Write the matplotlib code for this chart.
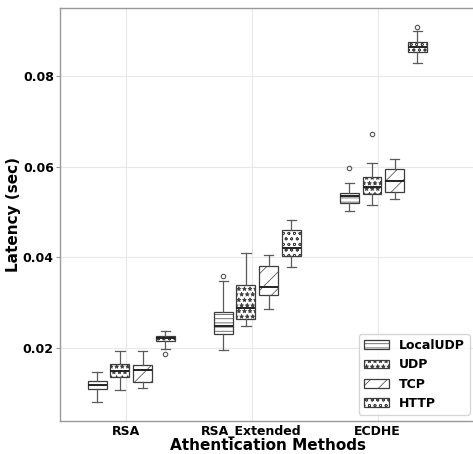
import matplotlib
matplotlib.use("Agg")
import matplotlib.pyplot as plt
from matplotlib.patches import Patch

# values: [whisker low, q1, median, q3, whisker high]
methods = ["RSA", "RSA_Extended", "ECDHE"]
protocols = ["LocalUDP", "UDP", "TCP", "HTTP"]

local_udp = [[0.0080, 0.0109, 0.0118, 0.0128, 0.0148],
             [0.0195, 0.0232, 0.0249, 0.0280, 0.0348],
             [0.0502, 0.0519, 0.0535, 0.0543, 0.0563]]
udp = [[0.0107, 0.0137, 0.0149, 0.0165, 0.0193],
       [0.0248, 0.0265, 0.0288, 0.0338, 0.0409],
       [0.0516, 0.0539, 0.0556, 0.0577, 0.0607]]
tcp = [[0.0112, 0.0124, 0.0151, 0.0163, 0.0193],
       [0.0287, 0.0316, 0.0334, 0.0380, 0.0406],
       [0.0528, 0.0545, 0.0568, 0.0594, 0.0618]]
http = [[0.0198, 0.0215, 0.0221, 0.0226, 0.0237],
        [0.0379, 0.0403, 0.0420, 0.0460, 0.0482],
        [0.0828, 0.0852, 0.0864, 0.0875, 0.0899]]

local_udp_fliers = [[], [0.0358], [0.0596]]
udp_fliers = [[], [], [0.0671]]
tcp_fliers = [[], [], []]
http_fliers = [[0.0186], [], [0.0909]]

series = [local_udp, udp, tcp, http]
fliers = [local_udp_fliers, udp_fliers, tcp_fliers, http_fliers]
hatches = ["----", "***", "//", "ooo"]

plt.rcParams["font.family"] = "DejaVu Sans"
plt.rcParams["font.weight"] = "bold"
plt.rcParams["hatch.linewidth"] = 0.5

fig = plt.figure(figsize=(4.73, 4.54), dpi=100)
ax = fig.add_axes([60 / 473, 33 / 454, 416 / 473, 413 / 454])

edge = "#3c3c3c"
step = 0.18
for j, (proto, data, fl, h) in enumerate(zip(protocols, series, fliers, hatches)):
    stats = []
    for i in range(len(methods)):
        lo, q1, med, q3, hi = data[i]
        stats.append(dict(whislo=lo, q1=q1, med=med, q3=q3, whishi=hi, fliers=fl[i]))
    pos = [i + (j - 1.25) * step for i in range(len(methods))]
    ax.bxp(stats, positions=pos, widths=0.15, patch_artist=True,
           manage_ticks=False,
           boxprops=dict(facecolor="white", edgecolor=edge, linewidth=0.9, hatch=h),
           whiskerprops=dict(color="#5a5a5a", linewidth=0.9),
           capprops=dict(color="#5a5a5a", linewidth=0.9),
           medianprops=dict(color="#222222", linewidth=1.4),
           flierprops=dict(marker="o", markersize=3.2, markerfacecolor="none",
                           markeredgecolor="#555555", markeredgewidth=0.8))

ax.set_xlim(-0.52, 2.78)
ax.set_ylim(0.0039, 0.0950)
ax.set_xticks(range(len(methods)))
ax.set_xticklabels(methods, fontsize=9, fontweight="bold")
ax.set_yticks([0.02, 0.04, 0.06, 0.08])
ax.set_yticklabels(["0.02", "0.04", "0.06", "0.08"], fontsize=9, fontweight="bold")
ax.tick_params(axis="y", length=3, color="#999999", pad=1.5)
ax.tick_params(axis="x", length=0, pad=3)

ax.grid(True, color="#e8e8e8", linewidth=0.8)
ax.set_axisbelow(True)
for s in ax.spines.values():
    s.set_color("#999999")
    s.set_linewidth(1.0)

ax.set_xlabel("Athentication Methods", fontsize=11, fontweight="bold", labelpad=0)
ax.set_ylabel("Latency (sec)", fontsize=11, fontweight="bold", labelpad=1)

handles = [Patch(facecolor="white", edgecolor=edge, hatch=h, linewidth=0.9, label=p)
           for p, h in zip(protocols, hatches)]
ax.legend(handles=handles, loc="lower right", prop=dict(size=9, weight="bold"),
          labelspacing=0.5, borderaxespad=0.5)

fig.savefig("out.png", dpi=100)
